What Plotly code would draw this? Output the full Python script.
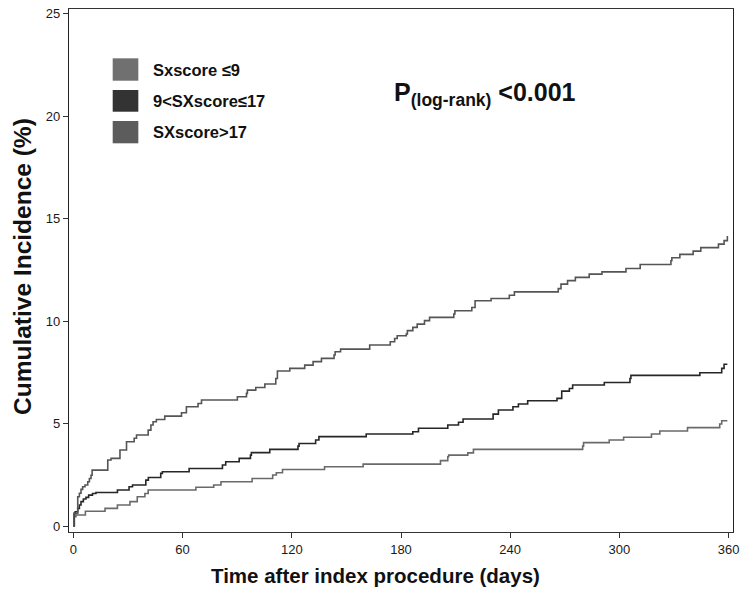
import plotly.graph_objects as go

# Kaplan-Meier style cumulative incidence (%) by SYNTAX score tertile
# step times (days) and cumulative incidence after each step

low_days = [0, 0.5, 1.4, 6.6, 17.4, 24.2, 31.1, 35.1, 39.3, 41.1,
            67.3, 77.1, 81.1, 98.2, 109.5, 111.5, 114.9, 138, 159.2, 201.7,
            205.7, 206.2, 216.7, 219.8, 279.8, 280.3, 294.4, 302.3, 317.6, 322.2,
            337.4, 355.1, 356.2, 359.3]
low_pct = [0, 0.46, 0.54, 0.72, 0.86, 1.03, 1.19, 1.43, 1.59, 1.76,
           1.89, 2.0, 2.16, 2.32, 2.49, 2.6, 2.76, 2.89, 3.02, 3.19,
           3.38, 3.46, 3.57, 3.74, 3.9, 4.07, 4.2, 4.33, 4.49, 4.64,
           4.8, 4.98, 5.14, 5.14]

mid_days = [0, 0.5, 1, 2.4, 3.3, 4.2, 5.5, 6.9, 8.4, 10.5,
            12.4, 24.2, 30.6, 32.5, 39.8, 41.2, 48, 48.9, 63.6, 81.9,
            83.7, 91.1, 97.3, 97.8, 107.9, 123.4, 124, 133.1, 134.9, 160.9,
            186.5, 189.6, 205.7, 211.6, 214.1, 230.6, 233.5, 241.5, 244.5, 249.6,
            265.7, 268.3, 272.5, 274.3, 291.7, 305.8, 306.3, 344.2, 356.2, 357.5,
            359.3]
mid_pct = [0, 0.62, 0.7, 0.86, 1.03, 1.19, 1.32, 1.4, 1.51, 1.59,
           1.64, 1.76, 1.92, 2.0, 2.24, 2.37, 2.57, 2.65, 2.81, 2.98,
           3.14, 3.3, 3.46, 3.58, 3.74, 3.9, 4.03, 4.2, 4.36, 4.49,
           4.6, 4.77, 4.93, 5.06, 5.22, 5.46, 5.66, 5.82, 5.95, 6.11,
           6.23, 6.58, 6.71, 6.88, 7.0, 7.2, 7.35, 7.48, 7.69, 7.89,
           7.89]

high_days = [0, 0.3, 2.4, 3.3, 4.2, 5.1, 6.4, 7.9, 8.8, 9.7,
             10.3, 18.9, 20.7, 25.6, 29.2, 33.4, 34.7, 41.1, 42.6, 43.8,
             45.6, 50.2, 59.4, 62.1, 68.5, 70.4, 90.1, 95.1, 95.6, 100.2,
             105.2, 111.2, 112.1, 118.9, 127.1, 131.7, 136.3, 143.2, 143.8, 146.8,
             162.8, 174.1, 176.5, 177.9, 182.9, 183.5, 186.5, 188.9, 192.9, 195.7,
             209, 209.6, 218.9, 220.7, 229.5, 239.5, 242.3, 266.4, 267.9, 271.5,
             275.8, 283.4, 290.4, 303.6, 311.4, 328.3, 328.8, 333.2, 340.5, 344.7,
             354.4, 357.5, 359.3]
high_pct = [0, 0.62, 1.43, 1.6, 1.79, 1.92, 2.0, 2.16, 2.32, 2.48,
            2.73, 3.22, 3.3, 3.71, 4.11, 4.28, 4.44, 4.68, 4.93, 5.09,
            5.2, 5.36, 5.53, 5.82, 5.98, 6.15, 6.31, 6.47, 6.63, 6.76,
            6.93, 7.2, 7.56, 7.69, 7.85, 8.02, 8.18, 8.34, 8.5, 8.63,
            8.83, 8.99, 9.15, 9.28, 9.37, 9.53, 9.69, 9.85, 10.02, 10.18,
            10.34, 10.5, 10.66, 10.99, 11.1, 11.26, 11.42, 11.58, 11.8, 11.97,
            12.13, 12.29, 12.4, 12.56, 12.76, 12.94, 13.09, 13.25, 13.41, 13.58,
            13.75, 13.92, 14.15]

group_labels = ["Sxscore \u22649", "9<SXscore\u226417", "SXscore>17"]
line_colors = ["#6a6a6a", "#262626", "#555555"]
swatch_colors = ["#707070", "#333333", "#5c5c5c"]

x_ticks = [0, 60, 120, 180, 240, 300, 360]
y_ticks = [0, 5, 10, 15, 20, 25]

series = [(low_days, low_pct), (mid_days, mid_pct), (high_days, high_pct)]

fig = go.Figure()
for (d, p), name, col in zip(series, group_labels, line_colors):
    fig.add_trace(go.Scatter(
        x=d, y=p, mode="lines", name=name,
        line=dict(color=col, width=1.6, shape="hv"),
        showlegend=False,
    ))

font_family = "Liberation Sans, Arial"

# legend: filled swatches with bold labels (paper coords of the plot area)
sw_top = [0.9057, 0.8451, 0.7858]
sw_bot = [0.8629, 0.8036, 0.7432]
for top, bot, name, col in zip(sw_top, sw_bot, group_labels, swatch_colors):
    fig.add_shape(type="rect", xref="paper", yref="paper",
                  x0=0.0658, x1=0.1044, y0=bot, y1=top,
                  fillcolor=col, line=dict(width=0))
    fig.add_annotation(xref="paper", yref="paper", x=0.123, y=(top + bot) / 2,
                       xanchor="left", yanchor="middle", showarrow=False,
                       text="<b>" + name.replace("<", "&lt;") + "</b>",
                       font=dict(family=font_family, size=16.5, color="#111"))

fig.add_annotation(xref="paper", yref="paper", x=0.487, y=0.838,
                   xanchor="left", yanchor="middle", showarrow=False,
                   text="<b>P<sub>(log-rank)</sub> &lt;0.001</b>",
                   font=dict(family=font_family, size=25, color="#111"))

# axis titles
fig.add_annotation(xref="paper", yref="paper", x=0.4623, y=-0.083,
                   xanchor="center", yanchor="middle", showarrow=False,
                   text="<b>Time after index procedure (days)</b>",
                   font=dict(family=font_family, size=20.5, color="#111"))
fig.add_annotation(xref="paper", yref="paper", x=-0.0708, y=0.5086,
                   xanchor="center", yanchor="middle", showarrow=False,
                   textangle=-90,
                   text="<b>Cumulative Incidence (%)</b>",
                   font=dict(family=font_family, size=24.5, color="#111"))

axis_font = dict(family=font_family, size=13, color="#1a1a1a")
fig.update_layout(
    width=742, height=589,
    margin=dict(l=69, r=9, t=9, b=57, autoexpand=False),
    paper_bgcolor="white", plot_bgcolor="white",
    xaxis=dict(
        range=[-2.4, 362.4], tickvals=x_ticks, ticks="outside", ticklen=5,
        tickcolor="#333", showgrid=False, zeroline=False, automargin=False,
        showline=True, linecolor="#333", linewidth=1.3, mirror=True,
        tickfont=axis_font,
    ),
    yaxis=dict(
        range=[-0.29, 25.22], tickvals=y_ticks, ticks="outside", ticklen=5,
        tickcolor="#333", showgrid=False, zeroline=False, automargin=False,
        showline=True, linecolor="#222", linewidth=1.3, mirror=True,
        tickfont=axis_font,
    ),
)

fig.write_html("out.html")
